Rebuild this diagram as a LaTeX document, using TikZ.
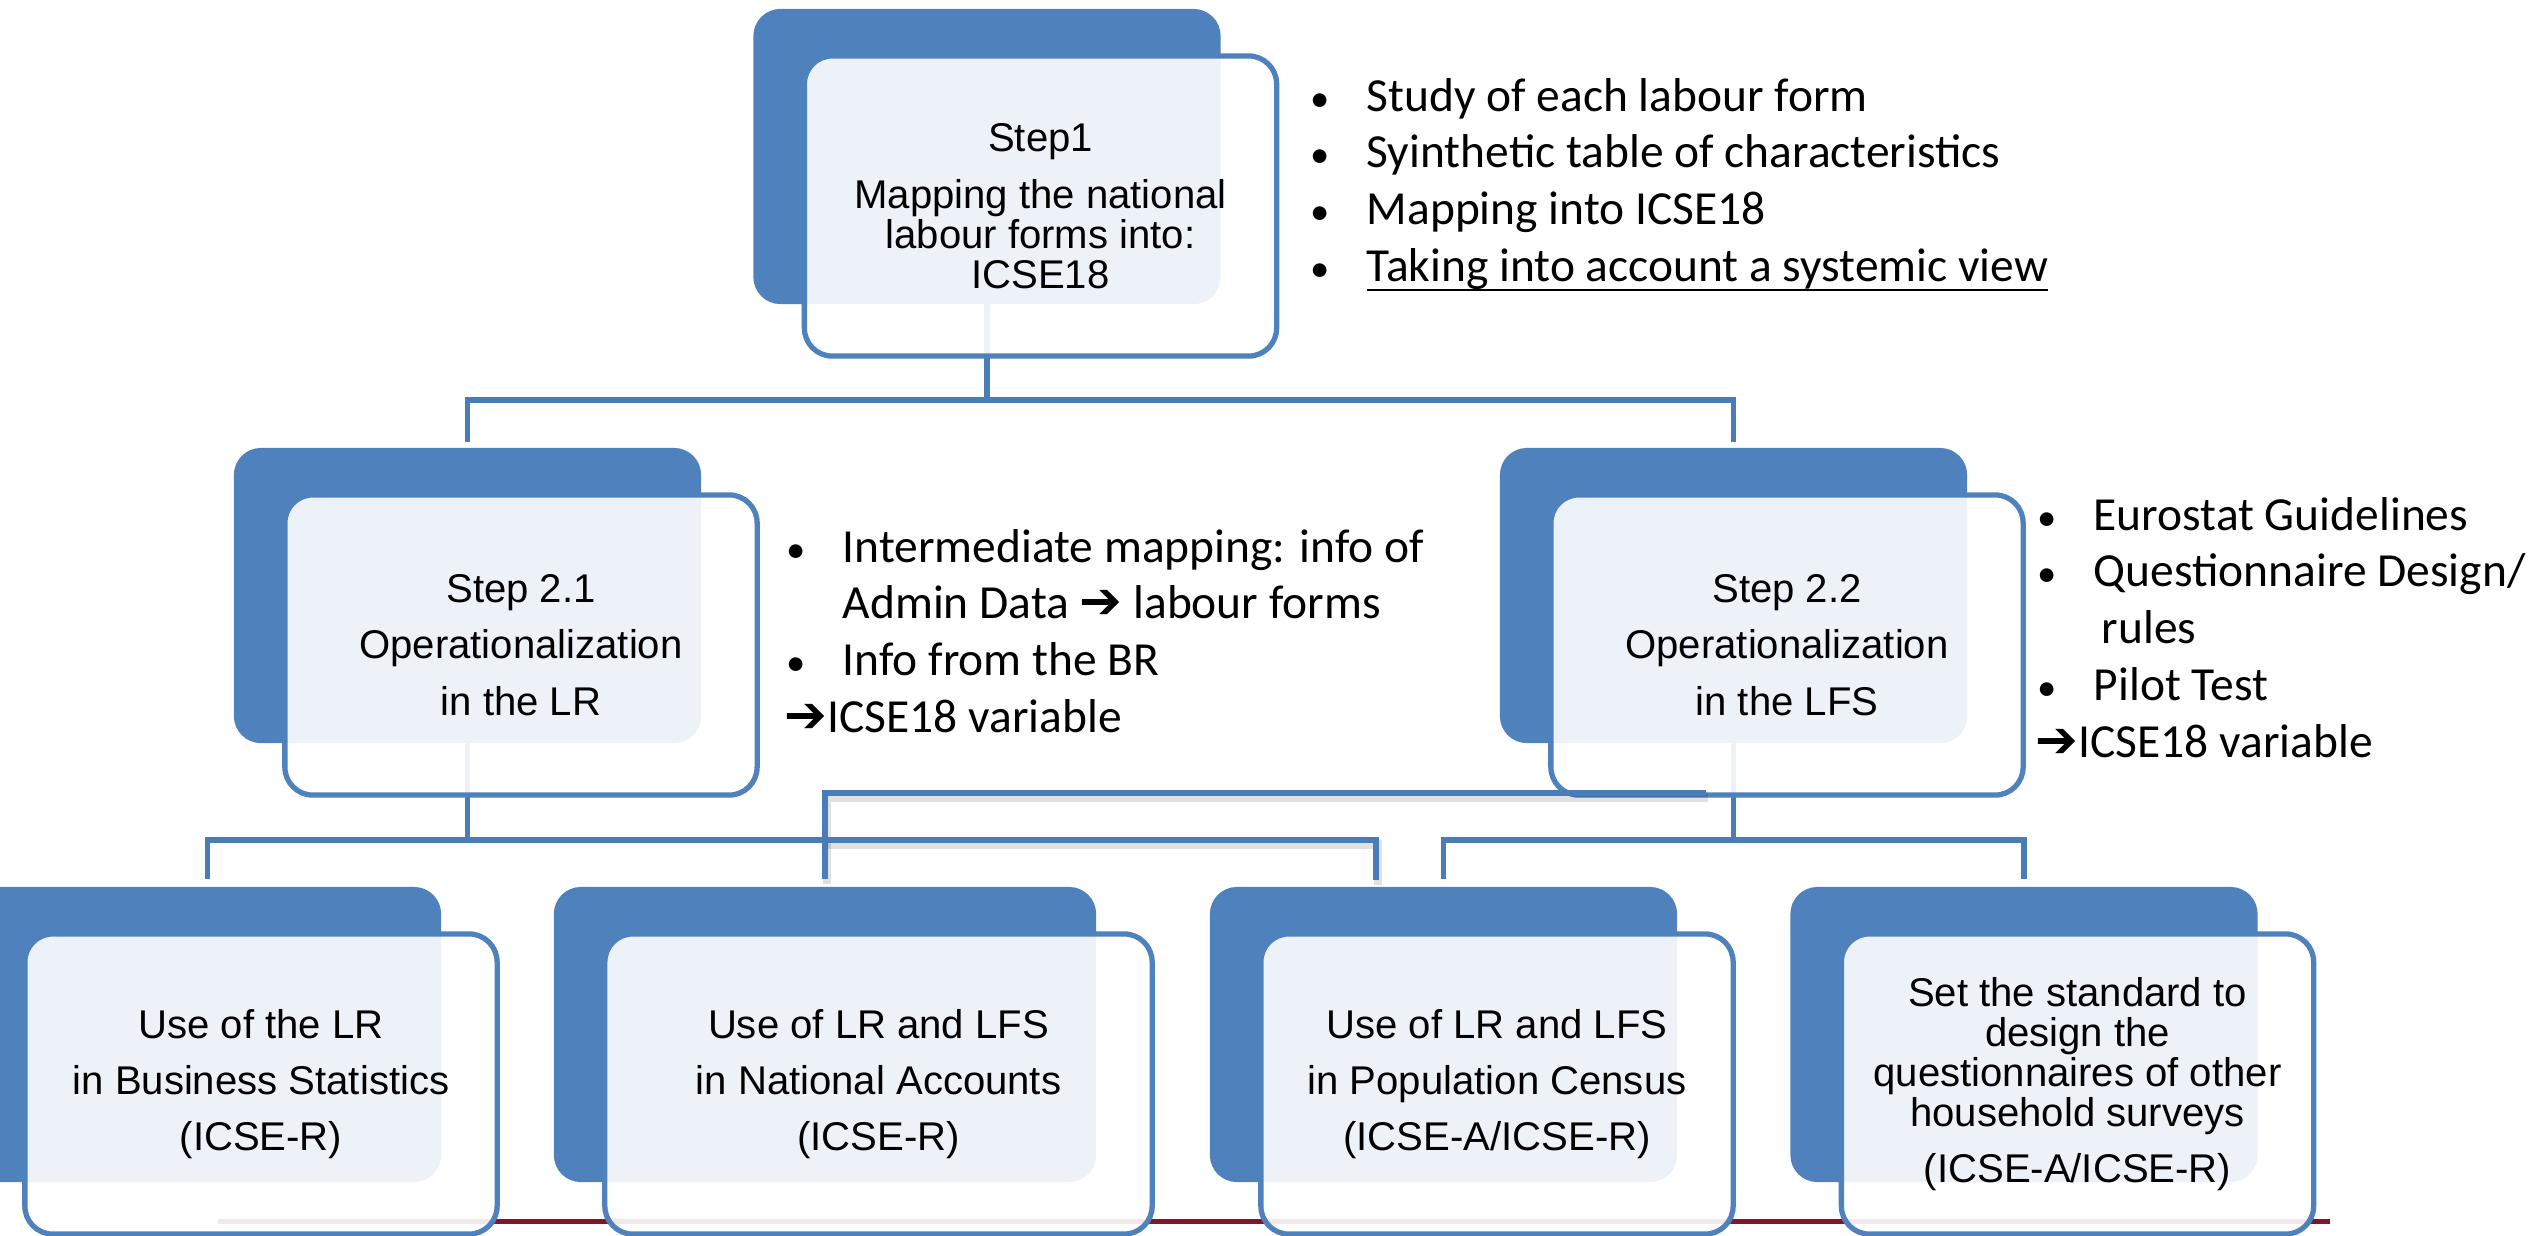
\documentclass[tikz,border=0pt]{standalone}
\usepackage{fontspec}
\setmainfont{Liberation Sans}
\newfontfamily\notefont{Carlito}
\newfontfamily\arrowfont{DejaVu Sans}
\usetikzlibrary{backgrounds}

\definecolor{smartblue}{RGB}{79,129,189}
\definecolor{linkblue}{RGB}{74,124,184}
\definecolor{footred}{RGB}{129,21,43}

\newcommand\dotitem{\makebox[0.53cm][l]{\hspace*{-0.03cm}{\fontsize{11pt}{11pt}\selectfont •}}}
\newcommand\arr{{\arrowfont\bfseries\fontsize{14.5pt}{14.5pt}\selectfont ➔}}
\newcommand\undl[1]{\setbox0\hbox{#1}\rlap{\rule[-2.6pt]{\wd0}{0.7pt}}\box0}

\tikzset{
  backbox/.style={fill=smartblue, rounded corners=0.27cm, minimum width=4.67cm,
    minimum height=2.95cm, inner sep=0pt},
  frontbox/.style={draw=smartblue, line width=1.5pt, fill=white, fill opacity=0.9,
    text opacity=1, rounded corners=0.28cm, minimum width=4.72cm, minimum height=3cm,
    inner sep=0pt, align=center, font=\fontsize{11.4pt}{11.4pt}\selectfont},
  conn/.style={draw=linkblue, line width=1.45pt},
  shadowed/.style={preaction={draw=black, draw opacity=0.12, line width=2.4pt,
    transform canvas={shift={(0.02cm,-0.045cm)}}}},
  notes/.style={anchor=base west, inner sep=0pt,
    font=\notefont\fontsize{13.5pt}{16.2pt}\selectfont},
  footer/.style={draw=footred, line width=1.42pt},
}

\begin{document}
\begin{tikzpicture}[x=0.01cm, y=-0.01cm]
  \useasboundingbox (0,0) rectangle (2542,1235);
  \clip (0,0) rectangle (2542,1235);

  %% Step 1
  \node[backbox] (bk1) at (987,156.5) {};
  \node[frontbox] (st1) at ([shift={(53.5,49.5)}]bk1.center)
    {Step1\\[4.8pt]Mapping the national\\labour forms into:\\ICSE18};

  %% Step 2.1 and Step 2.2
  \node[backbox] (bk21) at (467.5,595.5) {};
  \node[frontbox] (st21) at ([shift={(53.5,49.5)}]bk21.center)
    {Step 2.1\\[4.6pt]Operationalization\\[4.6pt]in the LR};
  \node[backbox] (bk22) at (1733.5,595.5) {};
  \node[frontbox] (st22) at ([shift={(53.5,49.5)}]bk22.center)
    {Step 2.2\\[4.6pt]Operationalization\\[4.6pt]in the LFS};

  %% Uses
  \node[backbox] (bkBS) at (207.5,1034.5) {};
  \node[frontbox] (useBS) at ([shift={(53.5,49.5)}]bkBS.center)
    {Use of the LR\\[4.6pt]in Business Statistics\\[4.6pt](ICSE-R)};
  \node[backbox, minimum width=5.42cm] (bkNA) at (825,1034.5) {};
  \node[frontbox, minimum width=5.47cm] (useNA) at ([shift={(53.5,49.5)}]bkNA.center)
    {Use of LR and LFS\\[4.6pt]in National Accounts\\[4.6pt](ICSE-R)};
  \node[backbox] (bkPC) at (1443.5,1034.5) {};
  \node[frontbox] (usePC) at ([shift={(53.5,49.5)}]bkPC.center)
    {Use of LR and LFS\\[4.6pt]in Population Census\\[4.6pt](ICSE-A/ICSE-R)};
  \node[backbox] (bkHS) at (2024,1034.5) {};
  \node[frontbox] (useHS) at ([shift={(53.5,49.5)}]bkHS.center)
    {Set the standard to\\design the\\questionnaires of other\\household surveys\\[4.6pt](ICSE-A/ICSE-R)};

  %% Connectors and footer line, behind the boxes
  \begin{scope}[on background layer]
    \coordinate (hub1) at (bk1.center |- 0,400);
    \draw[conn] (bk1.center) -- (hub1);
    \draw[conn, shorten <=0.05cm, shorten >=0.05cm] (bk21.north) |- (hub1) -| (bk22.north);
    \coordinate (hub21) at (bk21.center |- 0,840);
    \draw[conn] (bk21.center) -- (hub21);
    \draw[conn, shorten <=0.07cm] (bkBS.north) |- (bkNA.north |- hub21);
    \coordinate (hub22) at (bk22.center |- 0,840);
    \draw[conn] (bk22.center) -- (hub22);
    \draw[conn, shorten <=0.07cm, shorten >=0.07cm] (bkPC.north) |- (hub22) -| (bkHS.north);
    \draw[footer] (218,1221.5) -- (2330,1221.5);
  \end{scope}

  %% Stray connector pieces, on top
  \coordinate (stray1) at (1706,793);
  \coordinate (stray2) at (1376,880);
  \draw[conn, shadowed, shorten >=0.07cm] (stray1) -- (bkNA.north |- stray1) -- (bkNA.north);
  \draw[conn, shadowed] (bkNA.north |- hub21) -| (stray2);

  %% Notes
  \node[notes] (notes1) at (1313,111) {\begin{tabular}[t]{@{}l@{}}
    \dotitem Study of each labour form\\
    \dotitem Syinthetic table of characteristics\\
    \dotitem Mapping into ICSE18\\
    \dotitem \undl{Taking into account a systemic view}
  \end{tabular}};
  \node[notes] (notes21) at (789,562) {\begin{tabular}[t]{@{}l@{}}
    \dotitem Intermediate mapping: info of\\
    \hspace*{0.53cm}Admin Data \arr\ labour forms\\
    \dotitem Info from the BR\\
    \hspace*{-0.05cm}\arr ICSE18 variable
  \end{tabular}};
  \node[notes] (notes22) at (2040,530) {\begin{tabular}[t]{@{}l@{}}
    \dotitem Eurostat Guidelines\\
    \dotitem Questionnaire Design/\\
    \hspace*{0.61cm}rules\\
    \dotitem Pilot Test\\
    \hspace*{-0.05cm}\arr ICSE18 variable
  \end{tabular}};
\end{tikzpicture}
\end{document}
